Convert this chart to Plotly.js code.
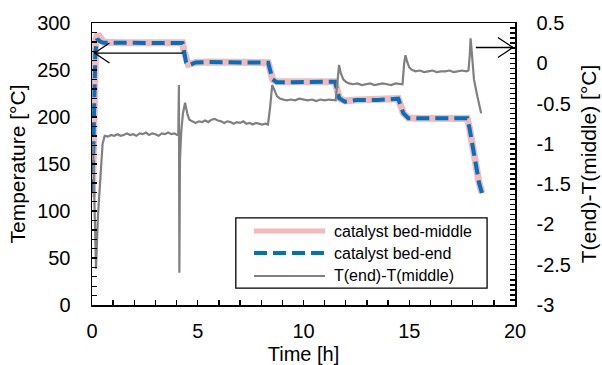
<!DOCTYPE html>
<html>
<head>
<meta charset="utf-8">
<script src="https://cdn.plot.ly/plotly-3.0.1.min.js"></script>
<style>
  html, body { margin: 0; padding: 0; background: #ffffff; }
  #chart { width: 602px; height: 365px; }
</style>
</head>
<body>
<div id="chart"></div>
<script>
// Catalyst bed temperature, middle position [°C] over time [h]
const timeMiddle = [0.02, 0.10, 0.18, 0.28, 0.40, 0.55, 1.5, 2.5, 3.5, 4.28, 4.35, 4.45, 4.55, 4.70, 4.90, 5.5, 6.5, 7.5, 8.33, 8.54, 8.73, 9.5, 10.5, 11.49, 11.69, 11.96, 12.5, 13.5, 14.48, 14.72, 14.96, 15.5, 16.5, 17.74, 17.85, 17.95, 18.08, 18.19, 18.30, 18.44];
const tempMiddle = [115, 200, 282, 288, 283, 279.5, 279, 279.5, 279, 279, 270, 259, 256, 256.5, 258, 258.5, 258.5, 258, 257.8, 240, 237.5, 237.5, 237.5, 237.6, 220, 217, 218, 218.5, 219.5, 204, 199, 198.6, 198.6, 198.5, 188, 175, 155, 140, 130, 119];

// Catalyst bed temperature, end position [°C]
const timeEnd = [0.02, 0.10, 0.16, 0.25, 0.40, 0.55, 1.5, 2.5, 3.5, 4.28, 4.35, 4.45, 4.55, 4.70, 4.90, 5.5, 6.5, 7.5, 8.33, 8.54, 8.73, 9.5, 10.5, 11.49, 11.69, 11.96, 12.5, 13.5, 14.48, 14.72, 14.96, 15.5, 16.5, 17.74, 17.85, 17.95, 18.08, 18.19, 18.30, 18.44];
const tempEnd = [120, 190, 270, 283, 280, 279, 278.7, 278.7, 278.7, 278.7, 270, 258, 255, 256, 258, 258.5, 258.5, 258.5, 257.8, 240, 237, 237, 237, 237.6, 219.9, 216.3, 218, 218, 219.5, 204, 198.6, 198.6, 198.6, 198.6, 188, 175, 155, 140, 130, 119];

// Temperature difference T(end) - T(middle) [°C]
const timeDiff = [0.05, 0.12, 0.19, 0.28, 0.38, 0.50, 0.60, 0.75, 0.90, 1.05, 1.20, 1.35, 1.50, 1.65, 1.80, 1.95, 2.10, 2.25, 2.40, 2.55, 2.70, 2.85, 3.00, 3.15, 3.30, 3.45, 3.60, 3.75, 3.90, 4.02, 4.08, 4.11, 4.13, 4.16, 4.22, 4.30, 4.40, 4.50, 4.60, 4.75, 4.90, 5.05, 5.20, 5.35, 5.50, 5.65, 5.80, 5.95, 6.10, 6.25, 6.40, 6.55, 6.70, 6.85, 7.00, 7.15, 7.30, 7.45, 7.60, 7.75, 7.90, 8.05, 8.20, 8.32, 8.42, 8.52, 8.62, 8.75, 8.90, 9.05, 9.20, 9.40, 9.60, 9.80, 10.00, 10.20, 10.40, 10.60, 10.80, 11.00, 11.20, 11.40, 11.52, 11.60, 11.68, 11.76, 11.88, 12.00, 12.15, 12.35, 12.55, 12.75, 12.95, 13.15, 13.35, 13.55, 13.75, 13.95, 14.15, 14.35, 14.55, 14.68, 14.76, 14.82, 14.90, 15.00, 15.12, 15.30, 15.50, 15.70, 15.90, 16.10, 16.30, 16.50, 16.70, 16.90, 17.10, 17.30, 17.50, 17.70, 17.80, 17.86, 17.90, 17.95, 18.06, 18.22, 18.40];
const diffValue = [-1.00, -1.70, -2.55, -1.90, -1.45, -1.00, -0.90, -0.91, -0.89, -0.90, -0.88, -0.90, -0.89, -0.87, -0.89, -0.88, -0.90, -0.87, -0.88, -0.86, -0.89, -0.87, -0.88, -0.90, -0.87, -0.88, -0.86, -0.88, -0.87, -0.89, -0.88, -0.27, -2.60, -1.20, -0.85, -0.62, -0.49, -0.62, -0.70, -0.72, -0.74, -0.72, -0.73, -0.71, -0.73, -0.70, -0.69, -0.71, -0.72, -0.74, -0.72, -0.73, -0.75, -0.73, -0.74, -0.72, -0.75, -0.74, -0.76, -0.74, -0.75, -0.76, -0.75, -0.76, -0.55, -0.27, -0.33, -0.41, -0.44, -0.45, -0.46, -0.45, -0.46, -0.44, -0.45, -0.46, -0.45, -0.47, -0.45, -0.46, -0.45, -0.46, -0.46, -0.25, -0.02, -0.12, -0.20, -0.23, -0.25, -0.26, -0.25, -0.27, -0.26, -0.25, -0.27, -0.26, -0.25, -0.26, -0.27, -0.25, -0.26, -0.26, 0.00, 0.10, 0.02, -0.05, -0.08, -0.10, -0.09, -0.11, -0.10, -0.09, -0.11, -0.10, -0.10, -0.09, -0.11, -0.10, -0.09, -0.10, -0.09, 0.10, 0.31, 0.16, -0.20, -0.41, -0.62];

// Series names and right-axis tick labels
const seriesNames = ['catalyst bed-middle', 'catalyst bed-end', 'T(end)-T(middle)'];
const rightTickVals = [-3, -2.5, -2, -1.5, -1, -0.5, 0, 0.5];
const rightTickText = ['-3', '-2.5', '-2', '-1.5', '-1', '-0.5', '0', '0.5'];

const FONT = 'Liberation Sans, Arial, sans-serif';
const PINK = 'rgb(242,186,186)';
const BLUE = 'rgb(0,112,192)';
const GREY = 'rgb(128,128,128)';

const traces = [
  { x: timeMiddle, y: tempMiddle, name: seriesNames[0], type: 'scatter', mode: 'lines',
    line: { color: PINK, width: 7 }, yaxis: 'y', showlegend: false },
  { x: timeEnd, y: tempEnd, name: seriesNames[1], type: 'scatter', mode: 'lines',
    line: { color: BLUE, width: 4, dash: '13px,6px' }, yaxis: 'y', showlegend: false },
  { x: timeDiff, y: diffValue, name: seriesNames[2], type: 'scatter', mode: 'lines',
    line: { color: GREY, width: 2.2 }, yaxis: 'y2', showlegend: false }
];

// Legend box drawn in paper coordinates
const lgX0 = 0.340, lgX1 = 0.934, lgY0 = 0.060, lgY1 = 0.309;
const rowY = [0.262, 0.184, 0.103];
const sampleX0 = 0.383, sampleX1 = 0.551, textX = 0.567;

const shapes = [
  { type: 'rect', xref: 'paper', yref: 'paper', x0: lgX0, x1: lgX1, y0: lgY0, y1: lgY1,
    line: { color: 'black', width: 1.3 }, fillcolor: 'white', layer: 'above' },
  { type: 'line', xref: 'paper', yref: 'paper', x0: sampleX0, x1: sampleX1, y0: rowY[0], y1: rowY[0],
    line: { color: PINK, width: 5 }, layer: 'above' },
  { type: 'line', xref: 'paper', yref: 'paper', x0: sampleX0, x1: sampleX1, y0: rowY[1], y1: rowY[1],
    line: { color: BLUE, width: 4, dash: '13px,6px' }, layer: 'above' },
  { type: 'line', xref: 'paper', yref: 'paper', x0: sampleX0, x1: sampleX1, y0: rowY[2], y1: rowY[2],
    line: { color: GREY, width: 2 }, layer: 'above' },
  // arrow pointing to the left (temperature) axis
  { type: 'line', xref: 'x', yref: 'y', x0: 0.12, x1: 4.29, y0: 268, y1: 268,
    line: { color: 'black', width: 1.3 } },
  { type: 'path', xref: 'x', yref: 'y', xsizemode: 'pixel', ysizemode: 'pixel',
    xanchor: 0.12, yanchor: 268, path: 'M15,10 L0,0 L15,-10',
    line: { color: 'black', width: 1.3 } },
  // arrow pointing to the right (difference) axis
  { type: 'line', xref: 'x', yref: 'y2', x0: 18.15, x1: 19.9, y0: 0.196, y1: 0.196,
    line: { color: 'black', width: 1.3 } },
  { type: 'path', xref: 'x', yref: 'y2', xsizemode: 'pixel', ysizemode: 'pixel',
    xanchor: 19.9, yanchor: 0.196, path: 'M-15,10 L0,0 L-15,-10',
    line: { color: 'black', width: 1.3 } }
];

const annotations = seriesNames.map((name, i) => ({
  xref: 'paper', yref: 'paper', x: textX, y: rowY[i], text: name,
  xanchor: 'left', yanchor: 'middle', showarrow: false,
  font: { family: FONT, size: 16, color: 'black' }
}));

const axisCommon = {
  showgrid: false, zeroline: false, showline: true,
  linecolor: 'black', linewidth: 1.5,
  ticks: 'inside', ticklen: 5, tickwidth: 1.4, tickcolor: 'black',
  tickfont: { family: FONT, size: 20, color: 'black' }
};
const minorTicks = { ticks: 'inside', ticklen: 5, tickwidth: 1.4, tickcolor: 'black', showgrid: false };

const layout = {
  width: 602, height: 365,
  margin: { l: 92, r: 87, t: 23, b: 60 },
  paper_bgcolor: 'white', plot_bgcolor: 'white',
  font: { family: FONT, color: 'black' },
  showlegend: false,
  xaxis: Object.assign({}, axisCommon, {
    range: [0, 20], tick0: 0, dtick: 5, mirror: true,
    ticklabelstandoff: 7,
    minor: Object.assign({ tickmode: 'linear', tick0: 0, dtick: 1 }, minorTicks),
    title: { text: 'Time [h]', font: { family: FONT, size: 20, color: 'black' }, standoff: 6 }
  }),
  yaxis: Object.assign({}, axisCommon, {
    range: [0, 300], tick0: 0, dtick: 50,
    ticklabelstandoff: 16,
    minor: Object.assign({ tickmode: 'linear', tick0: 0, dtick: 10 }, minorTicks),
    title: { text: 'Temperature [°C]', font: { family: FONT, size: 21, color: 'black' }, standoff: 6 }
  }),
  yaxis2: Object.assign({}, axisCommon, {
    range: [-3, 0.5], overlaying: 'y', side: 'right', anchor: 'x',
    tickmode: 'array', tickvals: rightTickVals, ticktext: rightTickText,
    ticklabelstandoff: 16,
    minor: Object.assign({ tickmode: 'linear', tick0: -3, dtick: 0.0625 }, minorTicks),
    title: { text: 'T(end)-T(middle) [°C]', font: { family: FONT, size: 21, color: 'black' }, standoff: 11 }
  }),
  shapes: shapes,
  annotations: annotations
};

Plotly.newPlot('chart', traces, layout, { displayModeBar: false, staticPlot: true });
</script>
</body>
</html>
